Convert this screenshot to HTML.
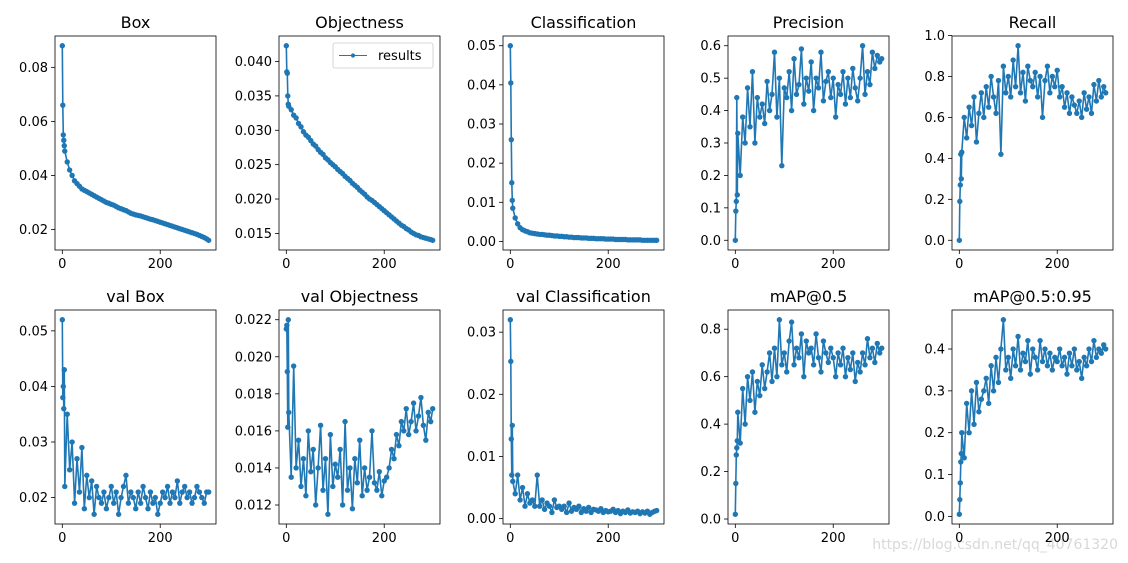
<!DOCTYPE html>
<html><head><meta charset="utf-8">
<style>
html,body{margin:0;padding:0;background:#fff;}
svg{display:block;font-family:"DejaVu Sans","Liberation Sans",sans-serif;}
</style></head>
<body>
<svg id="chart" width="1128" height="563" viewBox="0 0 1128 563" xmlns="http://www.w3.org/2000/svg">
<text x="1118" y="549" text-anchor="end" font-size="14" fill="#d8d8d8">https://blog.csdn.net/qq_40761320</text>
</svg>
<script>
const epochs=[0,1,2,3,4,5,10,15,20,25,30,35,40,45,50,55,60,65,70,75,80,85,90,95,100,105,110,115,120,125,130,135,140,145,150,155,160,165,170,175,180,185,190,195,200,205,210,215,220,225,230,235,240,245,250,255,260,265,270,275,280,285,290,295,299];
const titles=["Box","Objectness","Classification","Precision","Recall","val Box","val Objectness","val Classification","mAP@0.5","mAP@0.5:0.95"];
const boxVals=[0.088,0.066,0.055,0.053,0.051,
0.049,0.045,0.042,0.040,0.038,0.037,0.036,0.035,0.0345,0.034,
0.0335,0.033,0.0325,0.032,0.0315,0.031,0.0305,0.030,0.0297,0.0293,
0.029,0.0285,0.028,0.0277,0.0273,0.027,0.0265,0.026,0.0257,0.0254,
0.0252,0.025,0.0247,0.0244,0.0241,0.0238,0.0236,0.0233,0.023,0.0227,
0.0224,0.0221,0.0218,0.0215,0.0212,0.0209,0.0206,0.0203,0.02,0.0197,
0.0194,0.0191,0.0188,0.0185,0.0182,0.0178,0.0174,0.017,0.0165,0.016];
const objVals=[0.0423,0.0385,0.0383,0.035,0.0338,
0.0335,0.033,0.0322,0.0318,0.031,0.0305,0.0298,0.0293,0.029,0.0285,
0.028,0.0277,0.0272,0.0268,0.0265,0.026,0.0257,0.0253,0.025,0.0247,
0.0243,0.024,0.0237,0.0233,0.023,0.0227,0.0223,0.022,0.0217,0.0213,
0.021,0.0207,0.0203,0.020,0.0198,0.0195,0.0192,0.0189,0.0186,0.0183,
0.018,0.0177,0.0174,0.0171,0.0168,0.0165,0.0162,0.016,0.0157,0.0155,
0.0152,0.015,0.0148,0.0147,0.0145,0.0144,0.0143,0.0142,0.0141,0.014];
const clsVals=[0.05,0.0405,0.026,0.015,0.0105,
0.0085,0.006,0.0045,0.0035,0.003,0.0027,0.0025,0.0022,0.0021,0.002,
0.0019,0.0018,0.0018,0.0017,0.0016,0.0016,0.0015,0.0014,0.0014,0.0013,
0.0013,0.0012,0.0012,0.0011,0.0011,0.001,0.001,0.001,0.0009,0.0009,
0.0009,0.0008,0.0008,0.0008,0.0007,0.0007,0.0007,0.0007,0.0006,0.0006,
0.0006,0.0006,0.0005,0.0005,0.0005,0.0005,0.0005,0.0004,0.0004,0.0004,
0.0004,0.0004,0.0004,0.0003,0.0003,0.0003,0.0003,0.0003,0.0003,0.0003];
const precVals=[0.0,0.09,0.12,0.44,0.14,
0.33,0.2,0.38,0.3,0.47,0.35,0.52,0.3,0.44,0.38,
0.42,0.36,0.49,0.4,0.45,0.58,0.38,0.5,0.23,0.47,
0.44,0.52,0.4,0.56,0.45,0.48,0.59,0.42,0.5,0.46,
0.55,0.4,0.5,0.47,0.58,0.43,0.49,0.52,0.44,0.5,
0.38,0.48,0.45,0.52,0.42,0.5,0.44,0.53,0.47,0.43,
0.5,0.6,0.45,0.52,0.48,0.58,0.53,0.57,0.55,0.56];
const recVals=[0.0,0.19,0.27,0.42,0.3,
0.43,0.6,0.5,0.65,0.56,0.7,0.48,0.62,0.72,0.6,
0.75,0.65,0.8,0.7,0.62,0.78,0.42,0.85,0.72,0.8,
0.7,0.88,0.75,0.95,0.72,0.82,0.68,0.85,0.78,0.75,
0.82,0.7,0.8,0.6,0.78,0.85,0.72,0.8,0.75,0.83,
0.7,0.75,0.65,0.72,0.62,0.7,0.66,0.62,0.68,0.6,
0.72,0.64,0.7,0.62,0.76,0.68,0.78,0.7,0.75,0.72];
const vBoxVals=[0.052,0.038,0.040,0.036,0.043,
0.022,0.035,0.025,0.03,0.019,0.027,0.021,0.029,0.018,0.024,
0.02,0.023,0.017,0.022,0.02,0.019,0.021,0.018,0.02,0.022,
0.019,0.021,0.017,0.02,0.022,0.024,0.019,0.021,0.02,0.018,
0.021,0.019,0.022,0.02,0.018,0.021,0.019,0.02,0.017,0.019,
0.021,0.02,0.022,0.019,0.021,0.02,0.023,0.019,0.021,0.022,
0.02,0.021,0.019,0.02,0.022,0.021,0.02,0.019,0.021,0.021];
const vObjVals=[0.0215,0.0217,0.0192,0.0162,0.022,
0.017,0.0135,0.0195,0.014,0.0155,0.013,0.0145,0.0125,0.016,0.0138,
0.015,0.012,0.014,0.0163,0.0128,0.0145,0.0115,0.0158,0.013,0.0142,
0.0135,0.015,0.012,0.0165,0.0128,0.014,0.0118,0.0145,0.0132,0.0155,
0.0125,0.014,0.0128,0.0135,0.016,0.0132,0.0128,0.0138,0.0125,0.0133,
0.0135,0.014,0.015,0.0145,0.0158,0.0152,0.0165,0.016,0.0172,0.0158,
0.0165,0.0175,0.016,0.0168,0.0178,0.0163,0.0155,0.017,0.0165,0.0172];
const vClsVals=[0.032,0.0253,0.0128,0.007,0.015,
0.006,0.004,0.007,0.003,0.005,0.002,0.004,0.0025,0.003,0.002,
0.007,0.002,0.003,0.0015,0.0025,0.002,0.001,0.003,0.0018,0.002,
0.0015,0.002,0.001,0.0025,0.0012,0.0018,0.0015,0.002,0.001,0.0016,
0.0012,0.0018,0.001,0.0015,0.0014,0.0012,0.0016,0.001,0.0013,0.0011,
0.0012,0.0015,0.001,0.0013,0.0008,0.0012,0.001,0.0014,0.0009,0.0011,
0.001,0.0012,0.0008,0.0011,0.0009,0.0012,0.0007,0.001,0.0012,0.0013];
const map50Vals=[0.02,0.15,0.27,0.3,0.33,
0.45,0.32,0.55,0.4,0.6,0.5,0.62,0.45,0.58,0.52,
0.65,0.55,0.62,0.7,0.58,0.72,0.6,0.84,0.65,0.7,
0.62,0.75,0.83,0.65,0.72,0.68,0.78,0.6,0.75,0.7,
0.72,0.65,0.78,0.68,0.62,0.75,0.7,0.66,0.72,0.68,
0.6,0.7,0.65,0.72,0.6,0.68,0.63,0.7,0.58,0.66,
0.62,0.7,0.65,0.76,0.68,0.72,0.66,0.74,0.7,0.72];
const map95Vals=[0.005,0.04,0.08,0.13,0.15,
0.2,0.14,0.27,0.2,0.3,0.22,0.32,0.25,0.28,0.3,
0.33,0.27,0.36,0.3,0.38,0.32,0.4,0.47,0.35,0.38,
0.33,0.4,0.36,0.43,0.35,0.39,0.37,0.42,0.34,0.4,
0.38,0.35,0.42,0.37,0.4,0.36,0.39,0.35,0.38,0.37,
0.4,0.36,0.38,0.34,0.39,0.36,0.4,0.35,0.37,0.33,
0.38,0.36,0.4,0.37,0.42,0.38,0.4,0.39,0.41,0.4];
const series=[boxVals,objVals,clsVals,precVals,recVals,vBoxVals,vObjVals,vClsVals,map50Vals,map95Vals];
const yTickVals=[[0.02,0.04,0.06,0.08],[0.015,0.02,0.025,0.03,0.035,0.04],[0,0.01,0.02,0.03,0.04,0.05],[0,0.1,0.2,0.3,0.4,0.5,0.6],[0,0.2,0.4,0.6,0.8,1.0],[0.02,0.03,0.04,0.05],[0.012,0.014,0.016,0.018,0.020,0.022],[0,0.01,0.02,0.03],[0,0.2,0.4,0.6,0.8],[0,0.1,0.2,0.3,0.4]];
const yTickLabels=[["0.02","0.04","0.06","0.08"],["0.015","0.020","0.025","0.030","0.035","0.040"],["0.00","0.01","0.02","0.03","0.04","0.05"],["0.0","0.1","0.2","0.3","0.4","0.5","0.6"],["0.0","0.2","0.4","0.6","0.8","1.0"],["0.02","0.03","0.04","0.05"],["0.012","0.014","0.016","0.018","0.020","0.022"],["0.00","0.01","0.02","0.03"],["0.0","0.2","0.4","0.6","0.8"],["0.0","0.1","0.2","0.3","0.4"]];
const xTickVals=[0,200];

const NS="http://www.w3.org/2000/svg";
const svg=document.getElementById('chart');
const colL=[55,279,503,728,952], rowT=[36,310], W=161, H=214, C="#1f77b4";
function mk(tag,attrs,parent){const e=document.createElementNS(NS,tag);for(const k in attrs)e.setAttribute(k,attrs[k]);(parent||svg).appendChild(e);return e;}
series.forEach((vals,i)=>{
  const L=colL[i%5], T=rowT[Math.floor(i/5)];
  const g=mk('g',{});
  
  
  const xmin=Math.min(...epochs),xmax=Math.max(...epochs),xr=xmax-xmin;
  const x0=xmin-0.05*xr,x1=xmax+0.05*xr;
  const ymin=Math.min(...vals),ymax=Math.max(...vals),yr=(ymax-ymin)||1;
  const y0=ymin-0.05*yr,y1=ymax+0.05*yr;
  const sx=v=>L+(v-x0)/(x1-x0)*W, sy=v=>T+H-(v-y0)/(y1-y0)*H;
  const t=mk('text',{x:L+W/2,y:T-8,'text-anchor':'middle','font-size':16,fill:'#000'},g);
  t.textContent=titles[i];
  
  
  yTickVals[i].forEach((v,j)=>{
    const y=sy(v);
    mk('line',{x1:L-4,x2:L,y1:y,y2:y,stroke:'#000','stroke-width':0.8},g);
    const tl=mk('text',{x:L-7,y:y+4.5,'text-anchor':'end','font-size':13,fill:'#000'},g);
    tl.textContent=yTickLabels[i][j];
    
    
  });
  xTickVals.forEach(v=>{
    const x=sx(v);
    mk('line',{x1:x,x2:x,y1:T+H,y2:T+H+4,stroke:'#000','stroke-width':0.8},g);
    const tl=mk('text',{x:x,y:T+H+18,'text-anchor':'middle','font-size':13,fill:'#000'},g);
    tl.textContent=String(v);
    
    
  });
  const pts=vals.map((v,k)=>sx(epochs[k]).toFixed(1)+','+sy(v).toFixed(1)).join(' ');
  const pl=mk('polyline',{points:pts,fill:'none',stroke:C,'stroke-width':1.6},g);
  
  
  vals.forEach((v,k)=>{
    const c=mk('circle',{cx:sx(epochs[k]),cy:sy(v),r:2.7,fill:C},g);
    
    
  });
  const fr=mk('rect',{x:L,y:T,width:W,height:H,fill:'none',stroke:'#000','stroke-width':0.8},g);
  
  
  if(i===1){
    const lg=mk('g',{},g);
    
    
    mk('rect',{x:333,y:43,width:100,height:25,rx:2,fill:'#fff',stroke:'#ccc','stroke-width':0.8},lg);
    mk('line',{x1:339,x2:367,y1:55.5,y2:55.5,stroke:C,'stroke-width':1.1},lg);
    mk('circle',{cx:353,cy:55.5,r:2.1,fill:C},lg);
    const lt=mk('text',{x:378,y:60,'font-size':13,fill:'#000'},lg);
    lt.textContent='results';
    
    
  }
});
</script>
</body></html>
